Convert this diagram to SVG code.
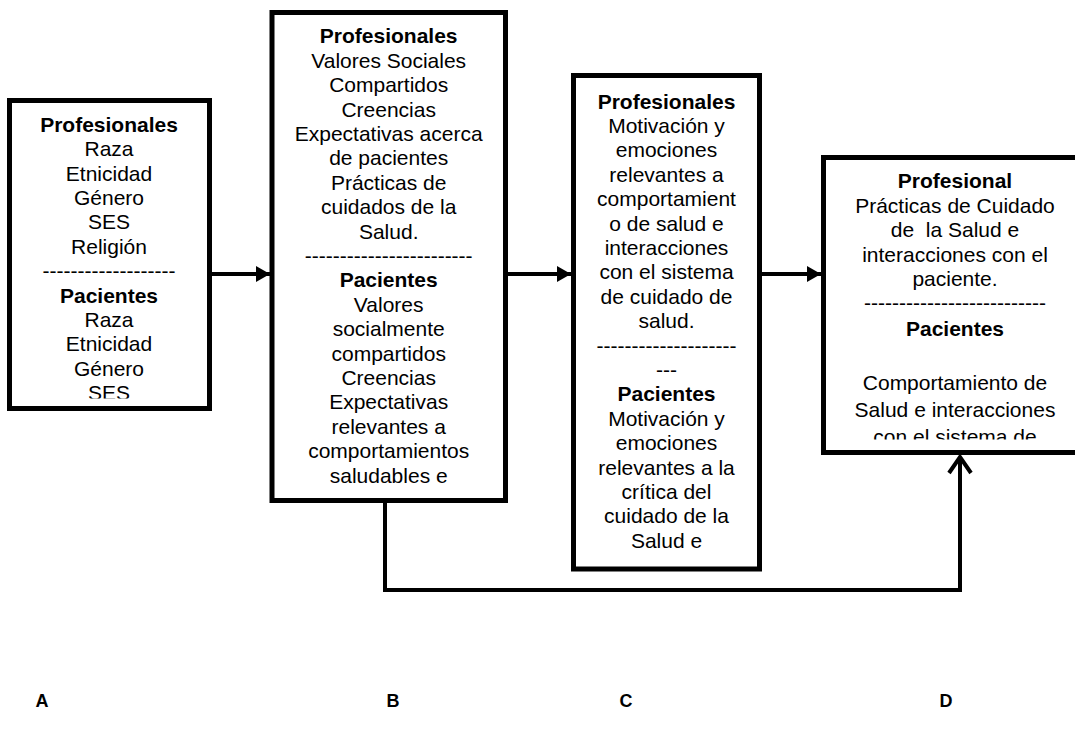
<svg xmlns="http://www.w3.org/2000/svg" width="1075" height="736" viewBox="0 0 1075 736">
<style>
.box{fill:#fff;stroke:#000;stroke-width:5}
.t{font-family:"Liberation Sans",Arial,sans-serif;font-size:21px;fill:#000;text-anchor:middle}
.b{font-weight:bold}
.lbl{font-family:"Liberation Sans",Arial,sans-serif;font-size:18px;font-weight:bold;fill:#000;text-anchor:middle}
.c{fill:none;stroke:#000;stroke-width:4}
</style>
<defs>
<marker id="ah" viewBox="0 0 14 16" refX="14" refY="8" markerWidth="14" markerHeight="16" markerUnits="userSpaceOnUse" orient="auto">
<path d="M0,0 L14,8 L0,16 Z" fill="#000"/>
</marker>
<clipPath id="clipA"><rect x="12" y="103" width="195" height="295.5"/></clipPath>
<clipPath id="clipD"><rect x="826" y="160" width="260" height="279.5"/></clipPath>
</defs>
<rect width="1075" height="736" fill="#fff"/>
<g id="connectors">
<line class="c" x1="212" y1="274" x2="270" y2="274" marker-end="url(#ah)"/>
<line class="c" x1="508" y1="274" x2="571" y2="274" marker-end="url(#ah)"/>
<line class="c" x1="762" y1="274" x2="821" y2="274" marker-end="url(#ah)"/>
<polyline class="c" points="385,503 385,590 960,590 960,457"/>
<polyline class="c" points="949,473 960,457 971,473"/>
</g>
<g id="nodeA">
<rect class="box" x="9.5" y="100.5" width="200" height="308"/>
<g clip-path="url(#clipA)">
<text class="t b" x="109" y="131.7">Profesionales</text>
<text class="t" x="109" y="156.1">Raza</text>
<text class="t" x="109" y="180.5">Etnicidad</text>
<text class="t" x="109" y="204.9">Género</text>
<text class="t" x="109" y="229.3">SES</text>
<text class="t" x="109" y="253.7">Religión</text>
<text class="t" x="109" y="278.1">-------------------</text>
<text class="t b" x="109" y="302.5">Pacientes</text>
<text class="t" x="109" y="326.9">Raza</text>
<text class="t" x="109" y="351.3">Etnicidad</text>
<text class="t" x="109" y="375.7">Género</text>
<text class="t" x="109" y="400.1">SES</text>
</g>
</g>
<g id="nodeB">
<rect class="box" x="272" y="12.5" width="233.5" height="488"/>
<text class="t b" x="388.7" y="43.3">Profesionales</text>
<text class="t" x="388.7" y="67.7">Valores Sociales</text>
<text class="t" x="388.7" y="92.1">Compartidos</text>
<text class="t" x="388.7" y="116.5">Creencias</text>
<text class="t" x="388.7" y="140.9">Expectativas acerca</text>
<text class="t" x="388.7" y="165.3">de pacientes</text>
<text class="t" x="388.7" y="189.7">Prácticas de</text>
<text class="t" x="388.7" y="214.1">cuidados de la</text>
<text class="t" x="388.7" y="238.5">Salud.</text>
<text class="t" x="388.7" y="262.9">------------------------</text>
<text class="t b" x="388.7" y="287.3">Pacientes</text>
<text class="t" x="388.7" y="311.7">Valores</text>
<text class="t" x="388.7" y="336.1">socialmente</text>
<text class="t" x="388.7" y="360.5">compartidos</text>
<text class="t" x="388.7" y="384.9">Creencias</text>
<text class="t" x="388.7" y="409.3">Expectativas</text>
<text class="t" x="388.7" y="433.7">relevantes a</text>
<text class="t" x="388.7" y="458.1">comportamientos</text>
<text class="t" x="388.7" y="482.5">saludables e</text>
</g>
<g id="nodeC">
<rect class="box" x="573.5" y="75.5" width="186" height="493.5"/>
<text class="t b" x="666.5" y="108.5">Profesionales</text>
<text class="t" x="666.5" y="132.9">Motivación y</text>
<text class="t" x="666.5" y="157.3">emociones</text>
<text class="t" x="666.5" y="181.7">relevantes a</text>
<text class="t" x="666.5" y="206.1">comportamient</text>
<text class="t" x="666.5" y="230.5">o de salud e</text>
<text class="t" x="666.5" y="254.9">interacciones</text>
<text class="t" x="666.5" y="279.3">con el sistema</text>
<text class="t" x="666.5" y="303.7">de cuidado de</text>
<text class="t" x="666.5" y="328.1">salud.</text>
<text class="t" x="666.5" y="352.5">--------------------</text>
<text class="t" x="666.5" y="376.9">---</text>
<text class="t b" x="666.5" y="401.3">Pacientes</text>
<text class="t" x="666.5" y="425.7">Motivación y</text>
<text class="t" x="666.5" y="450.1">emociones</text>
<text class="t" x="666.5" y="474.5">relevantes a la</text>
<text class="t" x="666.5" y="498.9">crítica del</text>
<text class="t" x="666.5" y="523.3">cuidado de la</text>
<text class="t" x="666.5" y="547.7">Salud e</text>
</g>
<g id="nodeD">
<rect class="box" x="823.5" y="157.5" width="265" height="295"/>
<g clip-path="url(#clipD)">
<text class="t b" x="955" y="188">Profesional</text>
<text class="t" x="955" y="212.5">Prácticas de Cuidado</text>
<text class="t" x="955" y="237" xml:space="preserve">de  la Salud e</text>
<text class="t" x="955" y="261.5">interacciones con el</text>
<text class="t" x="955" y="286">paciente.</text>
<text class="t" x="955" y="310">--------------------------</text>
<text class="t b" x="955" y="336">Pacientes</text>
<text class="t" x="955" y="390">Comportamiento de</text>
<text class="t" x="955" y="417">Salud e interacciones</text>
<text class="t" x="955" y="444">con el sistema de</text>
</g>
</g>
<g id="labels">
<text class="lbl" x="42" y="707">A</text>
<text class="lbl" x="393" y="707">B</text>
<text class="lbl" x="626" y="707">C</text>
<text class="lbl" x="946" y="707">D</text>
</g>
</svg>
